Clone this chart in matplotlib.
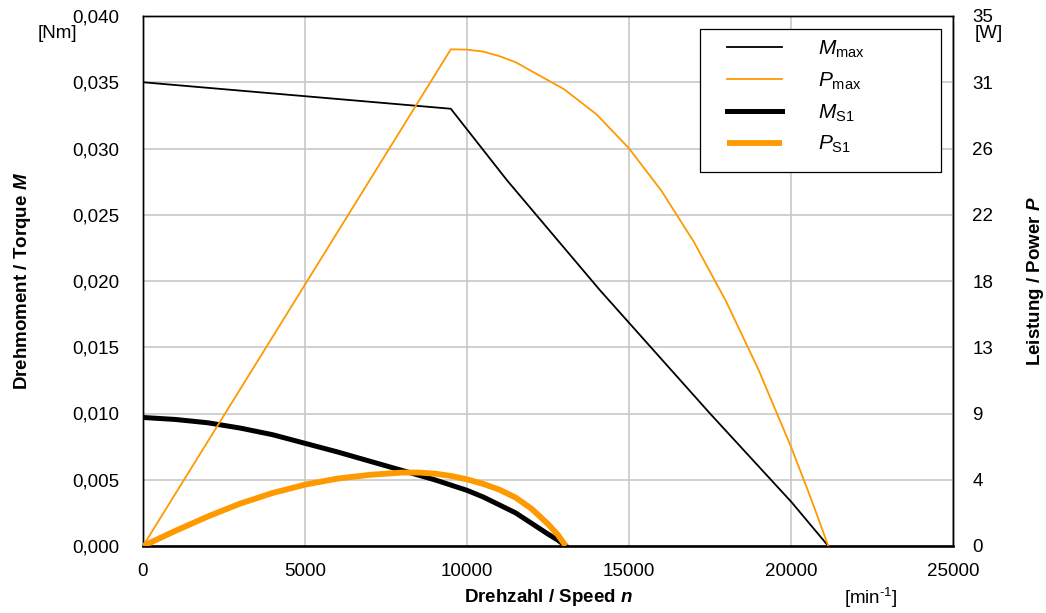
import matplotlib; matplotlib.use("Agg")
import matplotlib.pyplot as plt
from matplotlib.ticker import FuncFormatter
from matplotlib.patches import Rectangle

ORANGE = "#FF9900"; GRID = "#C8C8C8"
plt.rcParams.update({"font.family": "Liberation Sans", "mathtext.fontset": "custom",
                     "mathtext.rm": "Liberation Sans", "mathtext.it": "Liberation Sans:italic",
                     "mathtext.bf": "Liberation Sans:bold",
                     "mathtext.bfit": "Liberation Sans:bold:italic"})

# ---- data ----
n_mmax = [0, 9500, 11235, 14105, 17500, 20020, 21150]
m_max = [0.0350, 0.0330, 0.0276, 0.0193, 0.0100, 0.0033, 0.0]

n_pmax = [0, 9500, 10000, 10500, 11000, 11500, 12000, 13000, 14000, 15000, 16000, 17000,
          18000, 19000, 20000, 20500, 20800, 21150]
p_max = [0.0, 32.8, 32.78, 32.65, 32.35, 31.95, 31.35, 30.16, 28.5, 26.26, 23.46, 20.09,
         16.14, 11.63, 6.55, 3.79, 2.07, 0.0]

n_s1 = [0, 1000, 2000, 3000, 4000, 5000, 6000, 7000, 8000, 9000, 10000, 10500, 11000, 11500,
        12000, 12500, 12800, 13050]
m_s1 = [0.0097, 0.00955, 0.0093, 0.0089, 0.0084, 0.00775, 0.0071, 0.0064, 0.0057, 0.0050, 0.0042,
        0.0037, 0.0031, 0.0025, 0.0017, 0.0009, 0.00045, 0.0]

n_ps1 = [0, 1000, 2000, 3000, 4000, 5000, 6000, 7000, 8000, 8500, 9000, 9500, 10000, 10500,
         11000, 11500, 12000, 12500, 12800, 13050]
p_s1 = [0.0, 1.0, 1.95, 2.8, 3.5, 4.05, 4.45, 4.7, 4.85, 4.85, 4.78, 4.63, 4.4, 4.1,
        3.72, 3.2, 2.45, 1.45, 0.75, 0.0]

x_ticks = [0, 5000, 10000, 15000, 20000, 25000]
y_ticks = [0, 0.005, 0.010, 0.015, 0.020, 0.025, 0.030, 0.035, 0.040]
p_ticks = [0, 4.375, 8.75, 13.125, 17.5, 21.875, 26.25, 30.625, 35]
p_labels = ["0", "4", "9", "13", "18", "22", "26", "31", "35"]

FS = 13.5
fig = plt.figure(figsize=(10.46, 6.13), dpi=100)
ax = fig.add_axes([143/1046, 1-546/613, 810/1046, 530/613])
ax2 = ax.twinx()

ax.set_xlim(0, 25000); ax.set_ylim(0, 0.040)
ax2.set_ylim(0, 35)
ax.set_xticks(x_ticks); ax.set_yticks(y_ticks)
ax.yaxis.set_major_formatter(FuncFormatter(lambda v, p: f"{v:.3f}".replace(".", ",")))
ax2.set_yticks(p_ticks); ax2.set_yticklabels(p_labels)
ax.tick_params(axis="y", length=0, labelsize=FS, pad=17)
ax.tick_params(axis="x", length=0, labelsize=FS, pad=12)
ax2.tick_params(length=0, labelsize=FS, pad=14)
ax.grid(True, color=GRID, lw=1.2); ax.set_axisbelow(True)
for a in (ax, ax2):
    for sp in a.spines.values():
        sp.set_linewidth(1.0)
ax.spines["bottom"].set_linewidth(1.8)

l1, = ax.plot(n_mmax, m_max, color="black", lw=1.3, label=r"$M_{\mathrm{max}}$", zorder=3)
l3, = ax.plot(n_s1, m_s1, color="black", lw=3.6, label=r"$M_{\mathrm{S1}}$", zorder=3)
l2, = ax2.plot(n_pmax, p_max, color=ORANGE, lw=1.3, label=r"$P_{\mathrm{max}}$", zorder=3)
l4, = ax2.plot(n_ps1, p_s1, color=ORANGE, lw=4.2, label=r"$P_{\mathrm{S1}}$", zorder=3,
               solid_capstyle="butt")

# legend frame drawn by hand, entries without frame
ax2.add_patch(Rectangle((0.6877, 0.7057), 0.2975, 0.2698, transform=ax2.transAxes,
                        facecolor="white", edgecolor="black", lw=0.9, zorder=4))
leg = ax2.legend(handles=[l1, l2, l3, l4], loc="upper left", bbox_to_anchor=(0.721, 0.957),
                 fontsize=15, handlelength=2.64, handletextpad=1.73, labelspacing=0.5,
                 borderpad=0, borderaxespad=0, frameon=False)
leg.set_zorder(5)

ax.set_xlabel(r"Drehzahl / Speed $\mathbfit{n}$", fontsize=FS, fontweight="bold", labelpad=5)
ax.set_ylabel(r"Drehmoment / Torque $\mathbfit{M}$", fontsize=FS, fontweight="bold", labelpad=28)
ax2.set_ylabel(r"Leistung / Power $\mathbfit{P}$", fontsize=FS, fontweight="bold", labelpad=23)
fig.text(57/1046, 1-33/613, "[Nm]", fontsize=FS, ha="center", va="center")
fig.text(989/1046, 1-33/613, "[W]", fontsize=FS, ha="center", va="center")
fig.text(871/1046, 1-598/613, "[min$^{\\mathregular{\u20101}}$]", fontsize=FS, ha="center", va="center")

fig.savefig("out.png", dpi=100)
